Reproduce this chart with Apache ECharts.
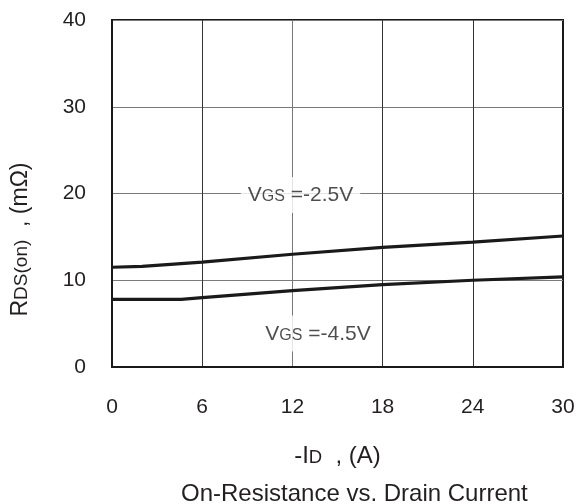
<!DOCTYPE html>
<html>
<head>
<meta charset="utf-8">
<script src="https://cdn.jsdelivr.net/npm/echarts@6/dist/echarts.min.js"></script>
<style>
html,body{margin:0;padding:0;background:#fff;}
#c{width:578px;height:504px;}
</style>
</head>
<body>
<div id="c"></div>
<script>
// Data
var xTicks = [0, 6, 12, 18, 24, 30];
var yTicks = [0, 10, 20, 30, 40];
var vgs25_x = [0, 2, 6, 12, 18, 24, 30];
var vgs25_y = [11.5, 11.6, 12.1, 13.0, 13.8, 14.4, 15.1];
var vgs45_x = [0, 4.6, 6, 12, 18, 24, 30];
var vgs45_y = [7.8, 7.8, 8.0, 8.8, 9.5, 10.0, 10.4];
var labelNames = ['-2.5V', '-4.5V'];
var labelPos = [[12.54, 19.83], [13.7, 3.86]];

var FONT = '"Liberation Sans", Arial, Helvetica, sans-serif';
var TXT = '#231f20';

function pairs(xs, ys) { return xs.map(function (x, i) { return [x, ys[i]]; }); }

var chart = echarts.init(document.getElementById('c'));
var vgsRich = {
  v: { fontSize: 21, fontFamily: FONT, color: TXT, verticalAlign: 'bottom', lineHeight: 22 },
  s: { fontSize: 16, fontFamily: FONT, color: TXT, verticalAlign: 'bottom', lineHeight: 22, padding: [0, 0, 1, 0] }
};

var option = {
  animation: false,
  backgroundColor: '#fff',
  textStyle: { fontFamily: FONT },
  grid: { left: 112, right: 15, top: 20, bottom: 137, show: true, borderColor: '#1a1a1a', borderWidth: 2, backgroundColor: 'transparent' },
  xAxis: {
    type: 'value', min: xTicks[0], max: xTicks[xTicks.length - 1], interval: 6,
    axisLine: { show: true, lineStyle: { color: '#1a1a1a', width: 2 } },
    axisTick: { show: false },
    axisLabel: { fontSize: 21, color: TXT, margin: 30, fontFamily: FONT },
    splitLine: { show: true, lineStyle: { color: ['#1a1a1a', '#333', '#777', '#333', '#333', '#1a1a1a'], width: 1 } },
    name: '{a|-I}{b|D}{a|  , (A)}',
    nameLocation: 'middle', nameGap: 74,
    nameTextStyle: {
      rich: {
        a: { fontSize: 24, fontFamily: FONT, color: TXT, verticalAlign: 'bottom', lineHeight: 27 },
        b: { fontSize: 18.5, fontFamily: FONT, color: TXT, verticalAlign: 'bottom', lineHeight: 27, padding: [0, 0, 1, 0] }
      }
    }
  },
  yAxis: {
    type: 'value', min: yTicks[0], max: yTicks[yTicks.length - 1], interval: 10,
    axisLine: { show: true, lineStyle: { color: '#1a1a1a', width: 2 } },
    axisTick: { show: false },
    axisLabel: { fontSize: 21, color: TXT, margin: 26, fontFamily: FONT },
    splitLine: { show: true, lineStyle: { color: '#7a7a7a', width: 1 } }
  },
  title: {
    text: 'On-Resistance vs. Drain Current',
    left: 176, top: 477,
    textStyle: { fontSize: 24, fontWeight: 'normal', color: TXT, fontFamily: FONT }
  },
  graphic: [{
    type: 'text',
    x: 19, y: 239.5,
    rotation: Math.PI / 2,
    style: {
      text: '{r|R}{s|DS(on)}{r|  , (mΩ)}',
      align: 'center', verticalAlign: 'middle',
      rich: {
        r: { fontSize: 23, fontFamily: FONT, fill: TXT, color: TXT, verticalAlign: 'bottom', lineHeight: 26 },
        s: { fontSize: 19, fontFamily: FONT, fill: TXT, color: TXT, verticalAlign: 'bottom', lineHeight: 26, padding: [0, 0, 1, 0] }
      }
    }
  }],
  series: [
    {
      name: 'VGS=-2.5V', type: 'line', data: pairs(vgs25_x, vgs25_y),
      showSymbol: false, smooth: false, silent: true,
      lineStyle: { color: '#1a1a1a', width: 3.2 }
    },
    {
      name: 'VGS=-4.5V', type: 'line', data: pairs(vgs45_x, vgs45_y),
      showSymbol: false, smooth: false, silent: true,
      lineStyle: { color: '#1a1a1a', width: 3.2 }
    },
    {
      type: 'scatter', silent: true, symbolSize: 0,
      data: labelPos.map(function (p, i) { return { value: p, name: labelNames[i] }; }),
      label: {
        show: true, position: 'inside',
        formatter: function (p) { return '{v|V}{s|GS}{v| =' + p.name + '}'; },
        backgroundColor: '#fff', padding: [7, 7, 7, 7],
        rich: vgsRich
      },
      z: 5
    }
  ]
};
chart.setOption(option);
</script>
</body>
</html>
